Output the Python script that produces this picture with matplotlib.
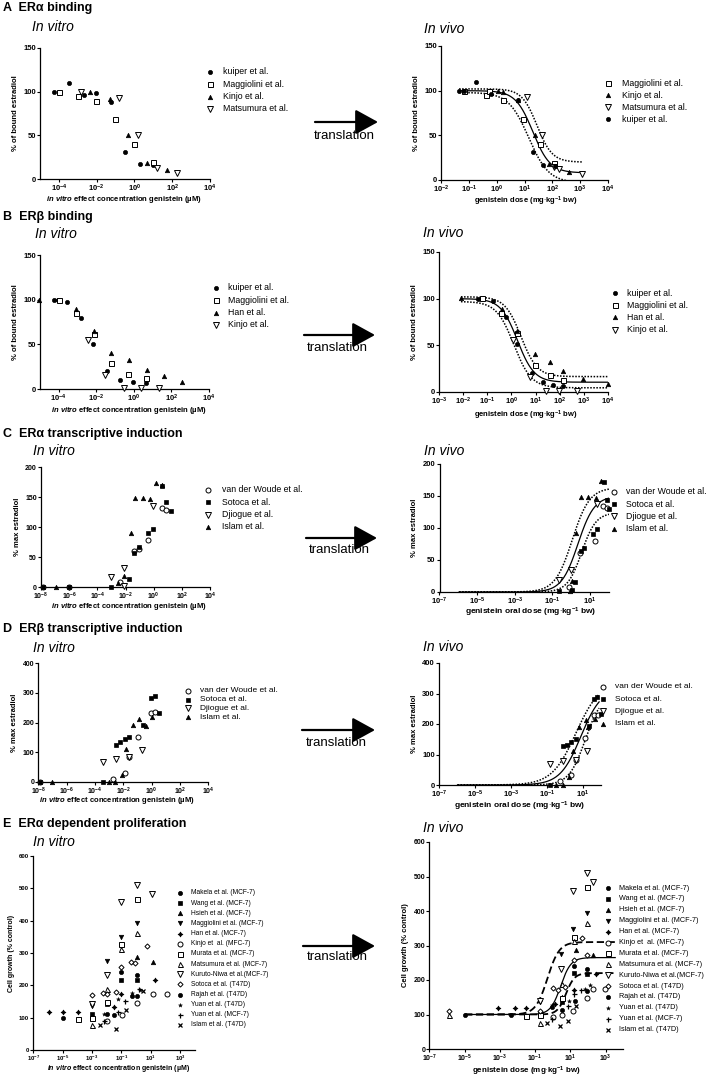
import numpy as np
import matplotlib
matplotlib.use('Agg')
import matplotlib.pyplot as plt
from matplotlib.lines import Line2D
from matplotlib.patches import FancyArrowPatch

plt.rcParams['font.family'] = 'Liberation Sans'
plt.rcParams['mathtext.fontset'] = 'custom'
plt.rcParams['mathtext.rm'] = 'Liberation Sans:bold'
plt.rcParams['mathtext.bf'] = 'Liberation Sans:bold'
plt.rcParams['mathtext.sf'] = 'Liberation Sans:bold'
plt.rcParams['mathtext.it'] = 'Liberation Sans:bold:italic'

# ---------------- data (x given as log10 of concentration / dose) ----------------
# A: ER alpha binding, in vitro
a_vitro_kuiper_lx = [-4.27, -4.02, -3.49, -2.69, -2.02, -1.26, -0.50, 0.28, 0.99]
a_vitro_kuiper_y = [100, 99, 110, 96, 98, 88, 31, 17, 16]
a_vitro_maggiolini_lx = [-4.0, -3.0, -2.02, -1.03, 0.0, 1.0]
a_vitro_maggiolini_y = [100, 95, 89, 69, 40, 19]
a_vitro_kinjo_lx = [-2.34, -1.31, -0.32, 0.69, 1.70]
a_vitro_kinjo_y = [100, 92, 50, 18, 10]
a_vitro_matsumura_lx = [-2.81, -0.81, 0.19, 1.20, 2.23]
a_vitro_matsumura_y = [100, 93, 50, 13, 7]
# A: in vivo
a_vivo_maggiolini_lx = [-1.16, -0.39, -0.26, 0.24, 0.94, 1.54, 2.05]
a_vivo_maggiolini_y = [100, 95, 100, 89, 68, 40, 19]
a_vivo_kinjo_lx = [0.04, 0.24, 0.76, 1.39, 1.87, 2.61]
a_vivo_kinjo_y = [100, 99, 90, 50, 18, 9]
a_vivo_matsumura_lx = [1.09, 1.63, 2.07, 2.23, 3.07]
a_vivo_matsumura_y = [93, 50, 14, 12, 7]
a_vivo_kuiper_lx = [-1.35, -1.16, -0.74, -0.21, 0.76, 1.29, 1.67, 2.08]
a_vivo_kuiper_y = [100, 100, 110, 96, 89, 31, 17, 16]
# fitted curves: left level, right level, log EC50, hill slope, x from, x to
a_fit = [100, 8, 1.30, 1.4, -1.35, 3.07]
a_fit_hi = [102, 20, 1.45, 1.6, -1.35, 3.07]
a_fit_lo = [98, -3, 1.15, 1.2, -1.35, 3.07]

# B: ER beta binding
b_vitro_kuiper_lx = [-4.27, -4.05, -3.55, -2.80, -2.16, -1.43, -0.75, -0.04, 0.64]
b_vitro_kuiper_y = [100, 100, 97, 80, 50, 20.5, 10, 7.5, 6.3]
b_vitro_maggiolini_lx = [-4.0, -3.1, -2.14, -1.21, -0.29, 0.64]
b_vitro_maggiolini_y = [100, 85, 62, 29.5, 17, 12]
b_vitro_han_lx = [-5.04, -3.1, -2.14, -1.21, -0.27, 0.68, 1.61, 2.55]
b_vitro_han_y = [100, 90, 65, 40.7, 32, 21, 14, 8]
b_vitro_kinjo_lx = [-2.46, -1.52, -0.54, 0.36, 1.32]
b_vitro_kinjo_y = [55, 16, 1, 1, 1]
b_vivo_kuiper_lx = [-1.37, -0.77, -0.21, 0.24, 0.84, 1.32, 1.73, 2.15]
b_vivo_kuiper_y = [100, 97.6, 80, 51, 20, 10.8, 7.9, 6.5]
b_vivo_maggiolini_lx = [-1.2, -0.42, 0.24, 0.97, 1.59, 2.15]
b_vivo_maggiolini_y = [101, 85, 63, 29, 18, 12.6]
b_vivo_han_lx = [-2.09, -0.39, 0.24, 0.97, 1.59, 2.15, 2.98, 4.0]
b_vivo_han_y = [100.5, 88.6, 65, 40.5, 32, 22, 14, 9]
b_vivo_kinjo_lx = [0.05, 0.75, 1.45, 1.95, 2.70]
b_vivo_kinjo_y = [55.6, 16, 1, 1, 1]
b_fit = [100, 10.5, 0.25, 1.25, -2.09, 4.0]
b_fit_hi = [102, 16.5, 0.40, 1.3, -2.09, 4.0]
b_fit_lo = [97, 4.5, 0.10, 1.2, -2.09, 4.0]

# C: ER alpha transcriptive induction
c_vitro_woude_lx = [-7.85, -6.0, -2.4, -1.37, -1.05, -0.4, 0.6, 0.87]
c_vitro_woude_y = [0, 0, 8, 60, 64, 79, 132, 128]
c_vitro_sotoca_lx = [-7.85, -6.0, -3.0, -1.75, -1.37, -1.05, -0.4, -0.07, 0.6, 0.9, 1.23]
c_vitro_sotoca_y = [0, 0, 0, 14, 57, 66, 90, 97, 168, 142, 126]
c_vitro_djiogue_lx = [-3.0, -2.08, -2.08, -0.07]
c_vitro_djiogue_y = [17, 32, 1, 135]
c_vitro_islam_lx = [-6.9, -2.55, -2.08, -1.58, -1.3, -0.76, -0.28, 0.19, 0.6]
c_vitro_islam_y = [0, 6, 18, 90, 148, 148, 147, 173, 170]
c_vivo_woude_lx = [-0.11, 0.45, 1.25, 1.69, 1.87]
c_vivo_woude_y = [8, 61, 80, 135, 131]
c_vivo_sotoca_lx = [-0.65, 0.03, 0.19, 0.5, 0.66, 1.16, 1.37, 1.73, 1.9, 2.0]
c_vivo_sotoca_y = [1, 3, 15, 63.5, 69, 91, 98, 172, 143, 130]
c_vivo_djiogue_lx = [-0.65, -0.03, 1.37]
c_vivo_djiogue_y = [19, 34, 138]
c_vivo_islam_lx = [-0.08, 0.06, 0.27, 0.49, 0.91, 1.3, 1.55]
c_vivo_islam_y = [1, 17, 92, 148, 148, 147, 174]
c_fit = [0, 150, 0.35, 1.0, -5.96, 2.0]
c_fit_hi = [0, 163, 0.05, 0.95, -5.96, 2.0]
c_fit_lo = [0, 124, 0.55, 1.15, -5.96, 2.0]

# D: ER beta transcriptive induction
d_vitro_woude_lx = [-7.9, -2.75, -1.88, -1.62, -0.99, -0.05, 0.24]
d_vitro_woude_y = [0, 11, 31, 84, 151, 231, 235]
d_vitro_sotoca_lx = [-7.9, -3.41, -2.52, -2.24, -1.88, -1.58, -0.64, -0.05, 0.24, 0.54]
d_vitro_sotoca_y = [0, 0, 125, 134, 143, 151, 193, 282, 290, 231]
d_vitro_djiogue_lx = [-3.41, -2.52, -1.62, -0.66]
d_vitro_djiogue_y = [66, 78, 84, 108]
d_vitro_islam_lx = [-7.06, -3.0, -2.6, -2.12, -1.81, -1.29, -0.87, -0.4, 0.0]
d_vitro_islam_y = [0, 0, 0, 25, 112, 192, 212, 188, 220]
d_vivo_woude_lx = [-0.26, 0.34, 0.61, 1.12, 1.63, 1.87]
d_vivo_woude_y = [14, 33, 82, 153, 230, 230]
d_vivo_sotoca_lx = [-0.81, -0.09, 0.15, 0.37, 0.61, 1.36, 1.63, 1.78, 2.0]
d_vivo_sotoca_y = [0, 128, 131, 142, 151, 194, 283, 290, 232]
d_vivo_djiogue_lx = [-0.81, -0.09, 0.61, 1.26]
d_vivo_djiogue_y = [69, 80, 82, 110]
d_vivo_islam_lx = [-0.5, -0.09, 0.24, 0.45, 0.8, 1.17, 1.32, 1.67]
d_vivo_islam_y = [0, 0, 27, 110, 190, 214, 190, 216]
d_fit = [0, 320, 0.90, 0.75, -5.97, 1.91]
d_fit_hi = [0, 340, 0.62, 0.65, -5.97, 1.91]
d_fit_lo = [0, 300, 1.15, 0.95, -5.97, 1.91]

# E: ER alpha dependent proliferation
e_labels = ['Makela et al. (MCF-7)', 'Wang et al. (MCF-7)', 'Hsieh et al. (MCF-7)',
            'Maggiolini et al. (MCF-7)', 'Han et al. (MCF-7)', 'Kinjo et  al. (MFC-7)',
            'Murata et al. (MCF-7)', 'Matsumura et al. (MCF-7)', 'Kuruto-Niwa et al.(MCF-7)',
            'Sotoca et al. (T47D)', 'Rajah et al. (T47D)', 'Yuan et al. (T47D)',
            'Yuan et al. (MCF-7)', 'Islam et al. (T47D)']
e_vitro_lx = [
    [-4.95, -3.0, -1.0, 0.1],
    [-3.0, -2.0, -1.0, 0.1],
    [-3.0, 0.1, 1.17],
    [-3.0, -2.0, -1.0, 0.1],
    [-5.91, -4.95, -3.92, -1.5, -1.0, 1.28],
    [-1.96, -0.95, 0.1, 1.17, 2.13],
    [-3.92, -3.0, -2.0, -1.0, 0.1],
    [-3.0, -2.0, -1.0, 0.1],
    [-3.0, -2.0, -1.0, 0.1, 1.12],
    [-3.0, -2.25, -1.96, -1.35, -1.0, -0.35, -0.1, 0.78],
    [-1.96, -1.5, -0.3, 0.1],
    [-2.2, -1.23, -0.25, 0.3],
    [-2.2, -1.23, -0.77, 0.2],
    [-2.44, -1.39, -0.66, 0.48],
]
e_vitro_y = [
    [98.5, 100, 240, 233],
    [110, 143, 218, 216],
    [105, 288, 272],
    [137, 274, 348, 393],
    [118, 118, 118, 132, 172, 216],
    [91, 109, 146, 173, 173],
    [95, 100, 148, 328, 467],
    [76, 188, 313, 363],
    [142, 232, 458, 511, 484],
    [170, 177, 173, 180, 258, 272, 268, 321],
    [112, 107, 166, 166],
    [112, 158, 176, 185],
    [89, 117, 152, 190],
    [77, 66, 125, 183],
]
e_vivo_lx = [
    [-4.97, -2.36, 1.23, 1.93],
    [-0.72, 0.5, 1.23, 1.93],
    [-0.72, 0.5, 1.3, 2.3],
    [-0.72, 0.46, 1.17, 1.93],
    [-3.08, -2.13, -1.53, 0.1, 1.2, 2.46],
    [0.04, 0.5, 1.17, 1.93, 2.31, 2.97],
    [-1.53, -0.72, 0.5, 1.21, 1.93],
    [-5.91, -0.72, 0.5, 1.21, 1.93],
    [-0.72, 0.46, 1.14, 1.93, 2.31],
    [-5.91, -0.72, 0.0, 0.3, 0.7, 1.2, 1.65, 1.93],
    [-0.05, 0.5, 1.27, 1.93],
    [-0.05, 0.9, 1.8, 2.1],
    [-0.05, 0.89, 1.2, 1.6],
    [-0.34, 0.42, 0.89, 1.3],
]
e_vivo_y = [
    [100, 100, 240, 233],
    [103, 136, 220, 216],
    [108, 150, 288, 272],
    [137, 274, 348, 393],
    [118, 118, 118, 130, 172, 217],
    [93, 98, 110, 148, 174, 173],
    [95, 100, 148, 326, 469],
    [98, 76, 188, 312, 364],
    [140, 232, 458, 510, 483],
    [110, 110, 176, 170, 180, 258, 321, 272],
    [121, 112, 138, 167],
    [128, 140, 175, 185],
    [86, 124, 160, 170],
    [76, 67, 81, 125],
]
e_fit = [100, 265, 0.45, 1.5, -4.97, 3.54]
e_fit_hi = [100, 310, -0.30, 1.3, -4.97, 3.54]
e_fit_lo = [100, 220, 0.75, 1.8, -4.97, 3.54]

# ---------------- styles ----------------
W, H = 709, 1077
fig = plt.figure(figsize=(W / 100, H / 100), dpi=100)

MK = {
    'dot': dict(marker='o', ms=3.0, mfc='k', mec='k', mew=0.5),
    'sq_o': dict(marker='s', ms=3.6, mfc='white', mec='k', mew=0.7),
    'sq': dict(marker='s', ms=3.2, mfc='k', mec='k', mew=0.5),
    'tri': dict(marker='^', ms=3.2, mfc='k', mec='k', mew=0.5),
    'itri': dict(marker='v', ms=3.2, mfc='k', mec='k', mew=0.5),
    'tri_o': dict(marker='^', ms=3.6, mfc='white', mec='k', mew=0.7),
    'itri_o': dict(marker='v', ms=3.8, mfc='white', mec='k', mew=0.7),
    'circ_o': dict(marker='o', ms=3.6, mfc='white', mec='k', mew=0.7),
    'dia_o': dict(marker='D', ms=2.6, mfc='white', mec='k', mew=0.7),
    'star4': dict(marker=(4, 1, 0), ms=3.6, mfc='k', mec='k', mew=0.5),
    'star': dict(marker='*', ms=3.0, mfc='k', mec='k', mew=0.3),
    'plus': dict(marker='+', ms=3.6, mfc='k', mec='k', mew=0.9),
    'x': dict(marker='x', ms=3.2, mfc='k', mec='k', mew=0.9),
}
e_styles = ['dot', 'sq', 'tri', 'itri', 'star4', 'circ_o', 'sq_o', 'tri_o', 'itri_o',
            'dia_o', 'dot', 'star', 'plus', 'x']


def fx(x):
    return x / W


def fy(y):
    return 1 - y / H


def make_axes(l, t, r, b, xlim, ylim, xt, yt, fs=5.5):
    ax = fig.add_axes([fx(l), fy(b), (r - l) / W, (b - t) / H])
    ax.set_xscale('log')
    ax.set_xlim(*xlim)
    ax.set_ylim(*ylim)
    ax.set_xticks([10.0 ** e for e in xt])
    ax.set_xticklabels([r'$10^{%d}$' % e for e in xt])
    ax.xaxis.set_minor_locator(matplotlib.ticker.NullLocator())
    ax.set_yticks(yt)
    ax.set_yticklabels([str(v) for v in yt], fontweight='bold')
    for s in ['top', 'right']:
        ax.spines[s].set_visible(False)
    for s in ['left', 'bottom']:
        ax.spines[s].set_linewidth(0.9)
    ax.tick_params(labelsize=fs, width=0.8, length=2.0)
    ax.tick_params(axis='x', pad=0.6)
    ax.tick_params(axis='y', pad=1.0)
    ax.patch.set_alpha(0)
    return ax


def pts(ax, lx, y, style):
    ax.plot(10.0 ** np.array(lx), y, ls='none', clip_on=False, zorder=3, **MK[style])


def curve(ax, p, **kw):
    left, right, c, n, x0, x1 = p
    lx = np.linspace(x0, x1, 300)
    y = left + (right - left) / (1 + 10.0 ** ((c - lx) * n))
    ax.plot(10.0 ** lx, y, color='k', zorder=2, **kw)


def legend(entries, xm, xt, y0, pitch, fs):
    for i, (lab, st) in enumerate(entries):
        y = y0 + i * pitch
        fig.add_artist(Line2D([fx(xm)], [fy(y)], transform=fig.transFigure, ls='none', **MK[st]))
        fig.text(fx(xt), fy(y), lab, fontsize=fs, va='center', ha='left')


def arrow(x0, x1, y, ytxt):
    fig.add_artist(FancyArrowPatch((fx(x0), fy(y)), (fx(x1), fy(y)), transform=fig.transFigure,
                                   arrowstyle='-|>,head_length=1.0,head_width=0.55',
                                   mutation_scale=14, lw=1.6, color='k', shrinkA=0, shrinkB=0))
    fig.text(fx((x0 + x1) / 2 - 2), fy(ytxt), 'translation', fontsize=9.5, ha='center', va='baseline')


def head(x, y, s):
    fig.text(fx(x), fy(y), s, fontsize=9, fontweight='bold', va='baseline')


def sub(x, y, s):
    fig.text(fx(x), fy(y), s, fontsize=10, style='italic', va='baseline')


def xlab(x, y, s, fs=5.5):
    fig.text(fx(x), fy(y), s, fontsize=fs, fontweight='bold', ha='center', va='center')


vitro_xl = r'$\mathit{in\ vitro}$ effect concentration genistein (µM)'
vivo_xl = r'genistein dose (mg$\cdot$kg$^{-1}$ bw)'
oral_xl = r'genistein oral dose (mg$\cdot$kg$^{-1}$ bw)'
lab_kw = dict(fontsize=5.5, fontweight='bold')

# ---------------- A ----------------
head(3, 11, 'A  ERα binding')
sub(32, 31, 'In vitro')
sub(424, 33, 'In vivo')
ax = make_axes(40, 48, 210, 179, (1e-5, 1e4), (0, 150), [-4, -2, 0, 2, 4], [0, 50, 100, 150])
pts(ax, a_vitro_kuiper_lx, a_vitro_kuiper_y, 'dot')
pts(ax, a_vitro_maggiolini_lx, a_vitro_maggiolini_y, 'sq_o')
pts(ax, a_vitro_kinjo_lx, a_vitro_kinjo_y, 'tri')
pts(ax, a_vitro_matsumura_lx, a_vitro_matsumura_y, 'itri_o')
xlab(124, 200, vitro_xl)
ax.set_ylabel('% of bound estradiol', labelpad=3, **lab_kw)
legend([('kuiper et al.', 'dot'), ('Maggiolini et al.', 'sq_o'), ('Kinjo et al.', 'tri'),
        ('Matsumura et al.', 'itri_o')], 210, 223, 72, 12.3, 6.3)
arrow(315, 378, 122, 139)

ax = make_axes(441, 46, 608, 180, (1e-2, 1e4), (0, 150), [-2, -1, 0, 1, 2, 3, 4], [0, 50, 100, 150])
curve(ax, a_fit, lw=0.9)
curve(ax, a_fit_hi, lw=1.1, ls=(0, (1, 1)))
curve(ax, a_fit_lo, lw=1.1, ls=(0, (1, 1)))
pts(ax, a_vivo_maggiolini_lx, a_vivo_maggiolini_y, 'sq_o')
pts(ax, a_vivo_kinjo_lx, a_vivo_kinjo_y, 'tri')
pts(ax, a_vivo_matsumura_lx, a_vivo_matsumura_y, 'itri_o')
pts(ax, a_vivo_kuiper_lx, a_vivo_kuiper_y, 'dot')
xlab(526, 201, vivo_xl)
ax.set_ylabel('% of bound estradiol', labelpad=3, **lab_kw)
legend([('Maggiolini et al.', 'sq_o'), ('Kinjo et al.', 'tri'), ('Matsumura et al.', 'itri_o'),
        ('kuiper et al.', 'dot')], 608, 622, 83, 12.0, 6.3)

# ---------------- B ----------------
head(3, 220, 'B  ERβ binding')
sub(35, 238, 'In vitro')
sub(423, 237, 'In vivo')
ax = make_axes(40, 255, 209, 389, (1e-5, 1e4), (0, 150), [-4, -2, 0, 2, 4], [0, 50, 100, 150])
pts(ax, b_vitro_kuiper_lx, b_vitro_kuiper_y, 'dot')
pts(ax, b_vitro_maggiolini_lx, b_vitro_maggiolini_y, 'sq_o')
pts(ax, b_vitro_han_lx, b_vitro_han_y, 'tri')
pts(ax, b_vitro_kinjo_lx, b_vitro_kinjo_y, 'itri_o')
xlab(129, 410, vitro_xl)
ax.set_ylabel('% of bound estradiol', labelpad=3, **lab_kw)
legend([('kuiper et al.', 'dot'), ('Maggiolini et al.', 'sq_o'), ('Han et al.', 'tri'),
        ('Kinjo et al.', 'itri_o')], 216, 228, 288, 12.3, 6.3)
arrow(304, 375, 335, 351)

ax = make_axes(439, 252, 608, 392, (1e-3, 1e4), (0, 150), [-3, -2, -1, 0, 1, 2, 3, 4], [0, 50, 100, 150])
curve(ax, b_fit, lw=0.9)
curve(ax, b_fit_hi, lw=1.1, ls=(0, (1, 1)))
curve(ax, b_fit_lo, lw=1.1, ls=(0, (1, 1)))
pts(ax, b_vivo_kuiper_lx, b_vivo_kuiper_y, 'dot')
pts(ax, b_vivo_maggiolini_lx, b_vivo_maggiolini_y, 'sq_o')
pts(ax, b_vivo_han_lx, b_vivo_han_y, 'tri')
pts(ax, b_vivo_kinjo_lx, b_vivo_kinjo_y, 'itri_o')
xlab(526, 415, vivo_xl)
ax.set_ylabel('% of bound estradiol', labelpad=3, **lab_kw)
legend([('kuiper et al.', 'dot'), ('Maggiolini et al.', 'sq_o'), ('Han et al.', 'tri'),
        ('Kinjo et al.', 'itri_o')], 615, 627, 293, 12.2, 6.3)

# ---------------- C ----------------
head(3, 437, 'C  ERα transcriptive induction')
sub(33, 455, 'In vitro')
sub(424, 455, 'In vivo')
ax = make_axes(41, 467, 210, 587, (1e-8, 1e4), (0, 200), [-8, -6, -4, -2, 0, 2, 4],
               [0, 50, 100, 150, 200], fs=5.0)
pts(ax, c_vitro_woude_lx, c_vitro_woude_y, 'circ_o')
pts(ax, c_vitro_sotoca_lx, c_vitro_sotoca_y, 'sq')
pts(ax, c_vitro_djiogue_lx, c_vitro_djiogue_y, 'itri_o')
pts(ax, c_vitro_islam_lx, c_vitro_islam_y, 'tri')
xlab(129, 606, vitro_xl)
ax.set_ylabel('% max estradiol', labelpad=3, **lab_kw)
c_leg = [('van der Woude et al.', 'circ_o'), ('Sotoca et al.', 'sq'), ('Djiogue et al.', 'itri_o'),
         ('Islam et al.', 'tri')]
legend(c_leg, 208, 222, 490, 12.3, 6.3)
arrow(306, 377, 538, 553)

ax = make_axes(439.5, 464, 609, 592, (1e-7, 1e2), (0, 200), [-7, -5, -3, -1, 1], [0, 50, 100, 150, 200])
curve(ax, c_fit, lw=0.9)
curve(ax, c_fit_hi, lw=1.1, ls=(0, (1, 1)))
curve(ax, c_fit_lo, lw=1.1, ls=(0, (1, 1)))
pts(ax, c_vivo_woude_lx, c_vivo_woude_y, 'circ_o')
pts(ax, c_vivo_sotoca_lx, c_vivo_sotoca_y, 'sq')
pts(ax, c_vivo_djiogue_lx, c_vivo_djiogue_y, 'itri_o')
pts(ax, c_vivo_islam_lx, c_vivo_islam_y, 'tri')
xlab(531, 612, oral_xl, 6)
ax.set_ylabel('% max estradiol', labelpad=3, **lab_kw)
legend(c_leg, 614, 626, 492, 12.2, 6.3)

# ---------------- D ----------------
head(3, 632, 'D  ERβ transcriptive induction')
sub(33, 652, 'In vitro')
sub(423, 651, 'In vivo')
ax = make_axes(38.3, 663, 208.3, 782, (1e-8, 1e4), (0, 400), [-8, -6, -4, -2, 0, 2, 4],
               [0, 100, 200, 300, 400], fs=5.0)
pts(ax, d_vitro_woude_lx, d_vitro_woude_y, 'circ_o')
pts(ax, d_vitro_sotoca_lx, d_vitro_sotoca_y, 'sq')
pts(ax, d_vitro_djiogue_lx, d_vitro_djiogue_y, 'itri_o')
pts(ax, d_vitro_islam_lx, d_vitro_islam_y, 'tri')
xlab(117, 801, vitro_xl)
ax.set_ylabel('% max estradiol', labelpad=3, **lab_kw)
legend(c_leg, 188, 200, 691, 8.7, 6.0)
arrow(302, 375, 730, 746)

ax = make_axes(439, 663, 600.7, 785, (1e-7, 1e2), (0, 400), [-7, -5, -3, -1, 1], [0, 100, 200, 300, 400])
curve(ax, d_fit, lw=0.9)
curve(ax, d_fit_hi, lw=1.1, ls=(0, (1, 1)))
curve(ax, d_fit_lo, lw=1.1, ls=(0, (1, 1)))
pts(ax, d_vivo_woude_lx, d_vivo_woude_y, 'circ_o')
pts(ax, d_vivo_sotoca_lx, d_vivo_sotoca_y, 'sq')
pts(ax, d_vivo_djiogue_lx, d_vivo_djiogue_y, 'itri_o')
pts(ax, d_vivo_islam_lx, d_vivo_islam_y, 'tri')
xlab(520, 806, oral_xl, 6)
ax.set_ylabel('% max estradiol', labelpad=3, **lab_kw)
legend(c_leg, 603, 615, 687, 12.2, 6.0)

# ---------------- E ----------------
head(3, 827, 'E  ERα dependent proliferation')
sub(33, 846, 'In vitro')
sub(423, 832, 'In vivo')
ax = make_axes(33.3, 856, 194.7, 1050, (1e-7, 1e4), (0, 600), [-7, -5, -3, -1, 1, 3],
               [0, 100, 200, 300, 400, 500, 600], fs=4.3)
for lx, y, st in zip(e_vitro_lx, e_vitro_y, e_styles):
    pts(ax, lx, y, st)
xlab(119, 1069, vitro_xl, 5)
ax.set_ylabel('Cell growth (% control)', labelpad=3, fontsize=5, fontweight='bold')
legend(list(zip(e_labels, e_styles)), 180, 191, 893, 10.15, 4.8)
arrow(303, 375, 946, 960)

ax = make_axes(429.3, 842, 623.3, 1049, (1e-7, 1e4), (0, 600), [-7, -5, -3, -1, 1, 3],
               [0, 100, 200, 300, 400, 500, 600], fs=5.0)
curve(ax, e_fit, lw=0.9)
curve(ax, e_fit_hi, lw=1.3, ls=(0, (4, 2)))
curve(ax, e_fit_lo, lw=1.3, ls=(0, (4, 2)))
for lx, y, st in zip(e_vivo_lx, e_vivo_y, e_styles):
    pts(ax, lx, y, st)
xlab(526, 1071, vivo_xl, 5.8)
ax.set_ylabel('Cell growth (% control)', labelpad=3, fontsize=5.5, fontweight='bold')
legend(list(zip(e_labels, e_styles)), 608, 619, 888, 10.9, 5.2)

fig.savefig('out.png', dpi=100)
